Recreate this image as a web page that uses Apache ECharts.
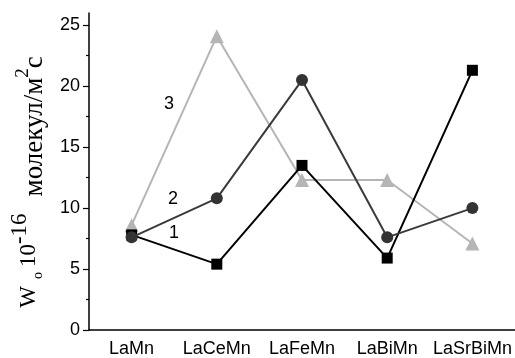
<!DOCTYPE html>
<html>
<head>
<meta charset="utf-8">
<script src="https://cdn.jsdelivr.net/npm/echarts@6/dist/echarts.min.js"></script>
<style>
  html, body { margin: 0; padding: 0; background: #fff; }
  #chart { width: 515px; height: 358px; }
</style>
</head>
<body>
<div id="chart"></div>
<script>
// Catalysts on the x axis
const categories = ['LaMn', 'LaCeMn', 'LaFeMn', 'LaBiMn', 'LaSrBiMn'];
// Rate W (×10^-16 molecules/m²·s) for the three sample series
const series1 = [7.8, 5.4, 13.5, 5.9, 21.3];
const series2 = [7.6, 10.8, 20.5, 7.6, 10.0];
const series3 = [8.6, 24.1, 12.3, 12.3, 7.1];
// Y axis tick values
const yMajorTicks = [0, 5, 10, 15, 20, 25];
const yMinorTicks = [2.5, 7.5, 12.5, 17.5, 22.5];

const chart = echarts.init(document.getElementById('chart'), null, { renderer: 'canvas' });

const serif = '"Liberation Serif", "DejaVu Serif", serif';
const sans = '"Liberation Sans", Arial, sans-serif';

chart.setOption({
  animation: false,
  backgroundColor: '#ffffff',
  grid: { left: 89, right: -3, top: 13, bottom: 28, containLabel: false },
  xAxis: [
    {
      type: 'category',
      data: categories,
      boundaryGap: true,
      axisLine: { lineStyle: { color: '#000', width: 1.5 } },
      axisTick: { alignWithLabel: true, length: 5, lineStyle: { color: '#000', width: 1.2 } },
      axisLabel: { interval: 0, hideOverlap: false, color: '#000', fontFamily: sans, fontSize: 18, margin: 10 },
      splitLine: { show: false }
    },
    {
      type: 'category',
      data: categories,
      boundaryGap: true,
      position: 'bottom',
      axisLine: { show: false },
      axisTick: { interval: 0, alignWithLabel: false, length: 3, lineStyle: { color: '#000', width: 1.2 } },
      axisLabel: { show: false },
      splitLine: { show: false }
    }
  ],
  yAxis: [
    {
      type: 'value',
      min: 0,
      max: 26,
      axisLine: { show: true, lineStyle: { color: '#000', width: 1.5 } },
      axisTick: { show: true, customValues: yMajorTicks, length: 6, lineStyle: { color: '#000', width: 1.2 } },
      axisLabel: { customValues: yMajorTicks, color: '#000', fontFamily: sans, fontSize: 18, margin: 9 },
      splitLine: { show: false }
    },
    {
      type: 'value',
      min: 0,
      max: 26,
      position: 'left',
      axisLine: { show: false },
      axisTick: { show: true, customValues: yMinorTicks, length: 3, lineStyle: { color: '#000', width: 1.2 } },
      axisLabel: { show: false },
      splitLine: { show: false }
    }
  ],
  series: [
    {
      name: '3',
      type: 'line',
      data: series3,
      symbol: 'triangle',
      symbolSize: 14,
      z: 2,
      lineStyle: { color: '#b5b5b5', width: 2 },
      itemStyle: { color: '#b5b5b5' }
    },
    {
      name: '1',
      type: 'line',
      data: series1,
      symbol: 'rect',
      symbolSize: 11,
      z: 3,
      lineStyle: { color: '#000', width: 2 },
      itemStyle: { color: '#000' }
    },
    {
      name: '2',
      type: 'line',
      data: series2,
      symbol: 'circle',
      symbolSize: 12,
      z: 4,
      lineStyle: { color: '#3a3a3a', width: 2 },
      itemStyle: { color: '#333333' }
    }
  ],
  graphic: [
    { type: 'text', x: 169, y: 104, style: { text: '3', fontFamily: sans, fontSize: 18, fill: '#000', align: 'center', verticalAlign: 'middle' } },
    { type: 'text', x: 173, y: 199, style: { text: '2', fontFamily: sans, fontSize: 18, fill: '#000', align: 'center', verticalAlign: 'middle' } },
    { type: 'text', x: 174, y: 233, style: { text: '1', fontFamily: sans, fontSize: 18, fill: '#000', align: 'center', verticalAlign: 'middle' } },
    {
      // rotated y-axis title: W_o 10^-16 молекул/м²с
      type: 'text',
      x: 28,
      y: 182,
      rotation: Math.PI / 2,
      style: {
        text: '{w|W}{sub|o}{n|10}{sup|-16}{u|молекул/м}{sq|2}{c|с}',
        align: 'center',
        verticalAlign: 'middle',
        fill: '#000',
        rich: {
          w: { fontFamily: serif, fontSize: 23, verticalAlign: 'bottom', padding: [0, 0, 8, 0] },
          sub: { fontFamily: serif, fontSize: 14, verticalAlign: 'bottom', padding: [0, 0, 2.8, 7] },
          n: { fontFamily: serif, fontSize: 23, verticalAlign: 'bottom', padding: [0, 0, 8, 5] },
          sup: { fontFamily: serif, fontSize: 23, verticalAlign: 'bottom', padding: [0, 0, 17, 0] },
          u: { fontFamily: serif, fontSize: 27, verticalAlign: 'bottom', padding: [0, 0, 0, 17] },
          sq: { fontFamily: serif, fontSize: 19, verticalAlign: 'bottom', padding: [0, 0, 15.8, 0] },
          c: { fontFamily: serif, fontSize: 27, verticalAlign: 'bottom', padding: [0, 0, 0, 0] }
        }
      }
    }
  ]
});
</script>
</body>
</html>
